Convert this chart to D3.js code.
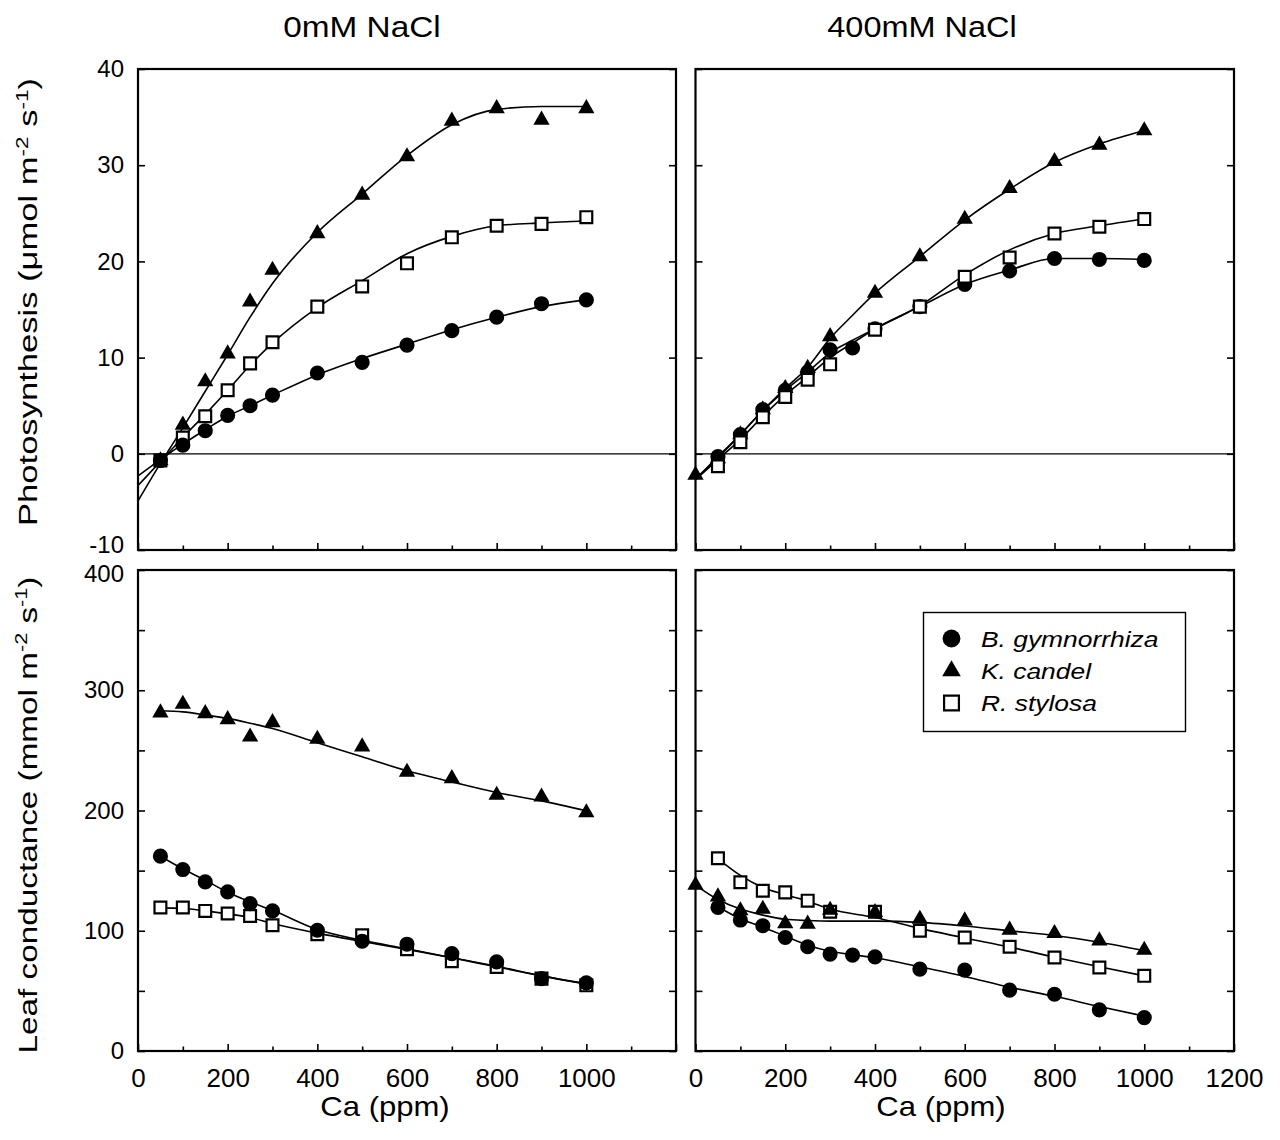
<!DOCTYPE html>
<html>
<head>
<meta charset="utf-8">
<script src="https://cdn.jsdelivr.net/npm/d3@7"></script>
<style>
  html, body { margin: 0; padding: 0; background: #fff; }
  svg { display: block; font-family: "Liberation Sans", Arial, Helvetica, sans-serif; }
</style>
</head>
<body>
<svg id="chart" width="1280" height="1140"></svg>
<script>
// ---------------- data ----------------
const species = ["B. gymnorrhiza", "K. candel", "R. stylosa"];
const columnTitles = ["0mM NaCl", "400mM NaCl"];

// Ca steps (ppm)
const caStd = [50, 100, 150, 200, 250, 300, 400, 500, 600, 700, 800, 900, 1000];
const caWith350 = [50, 100, 150, 200, 250, 300, 350, 400, 500, 600, 700, 800, 900, 1000];
const caWithZero = [0, 50, 100, 150, 200, 250, 300, 400, 500, 600, 700, 800, 900, 1000];

// Photosynthesis, 0 mM NaCl (umol m-2 s-1)
const pn0Bg = [-0.7, 0.9, 2.4, 4.0, 5.0, 6.1, 8.4, 9.5, 11.3, 12.8, 14.2, 15.6, 16.0];
const pn0Kc = [-0.7, 3.0, 7.5, 10.4, 15.8, 19.1, 22.9, 26.9, 30.9, 34.6, 35.9, 34.7, 35.9];
const pn0Rs = [-0.7, 1.7, 3.9, 6.6, 9.4, 11.6, 15.3, 17.4, 19.8, 22.5, 23.7, 23.9, 24.6];

// Photosynthesis, 400 mM NaCl
const pn400Bg = [-0.3, 2.0, 4.6, 6.6, 8.5, 10.8, 11.0, 13.0, 15.3, 17.6, 19.0, 20.3, 20.2, 20.1];
const pn400Kc = [-2.2, -0.5, 2.0, 4.6, 6.8, 8.9, 12.2, 16.7, 20.5, 24.4, 27.6, 30.4, 32.1, 33.6];
const pn400Rs = [-1.3, 1.2, 3.8, 5.9, 7.7, 9.3, 12.9, 15.3, 18.4, 20.4, 22.9, 23.6, 24.4];

// Leaf conductance, 0 mM NaCl (mmol m-2 s-1)
const gs0Bg = [162, 150.9, 140.6, 132.3, 122.6, 116.5, 100.4, 91.3, 88.8, 81, 74.1, 60.2, 56.6];
const gs0Kc = [281.3, 288.5, 280.7, 275.7, 261.3, 273.2, 259.4, 253, 231.9, 226.6, 212.8, 211.4, 198.3];
const gs0Rs = [119.3, 119.3, 116.5, 114.3, 112.3, 104.6, 97.1, 96.3, 84.6, 74.6, 69.9, 60.2, 54.6];

// Leaf conductance, 400 mM NaCl
const gs400Bg = [119.4, 108.9, 104.2, 94.4, 86.7, 80.6, 79.7, 78.3, 68.1, 67.2, 50.6, 47.2, 34.2, 27.8];
const gs400Kc = [138, 128.3, 116.7, 118, 106, 105.6, 117.2, 115.3, 109.7, 108.3, 100.6, 97.8, 91.7, 83.9];
const gs400Rs = [160.3, 140.3, 133.3, 131.9, 125, 115.8, 115.8, 100, 94.4, 86.7, 77.8, 69.4, 62.5];

// fitted response curves
const fitTL_x = [0, 50, 100, 150, 200, 250, 300, 400, 500, 600, 700, 800, 900, 1000];
const fitTL_Bg = [-2.3, -0.6, 1.0, 2.5, 3.9, 5.0, 6.1, 8.2, 9.9, 11.4, 12.9, 14.2, 15.3, 16.0];
const fitTL_Kc = [-4.9, -1.0, 2.7, 6.5, 10.3, 14.2, 17.7, 23.0, 27.0, 31.0, 34.2, 35.8, 36.1, 36.1];
const fitTL_Rs = [-3.3, -0.8, 1.7, 4.1, 6.6, 9.2, 11.5, 15.2, 18.0, 20.8, 22.6, 23.7, 24.0, 24.2];

const fitTR_x = [0, 50, 100, 150, 200, 250, 300, 350, 400, 500, 600, 700, 800, 900, 1000];
const fitTR_Bg = [-2.7, -0.3, 2.0, 4.5, 6.6, 8.5, 10.5, 11.8, 13.0, 15.3, 17.6, 19.1, 20.3, 20.3, 20.2];
const fitTR_Kc = [-2.6, -0.4, 2.0, 4.5, 6.8, 9.0, 12.0, 14.4, 16.7, 20.5, 24.3, 27.5, 30.3, 32.2, 33.6];
const fitTR_Rs = [-2.7, -0.6, 1.5, 3.9, 6.1, 8.0, 10.0, 11.5, 13.0, 15.4, 18.6, 21.2, 22.9, 23.7, 24.4];

const fitBL_x = [50, 100, 150, 200, 250, 300, 400, 500, 600, 700, 800, 900, 1000];
const fitBL_Bg = [162, 151.5, 142, 132, 124, 117, 101, 92, 85, 77.5, 70.5, 62.5, 56];
const fitBL_Kc = [283, 282, 279.5, 276.6, 272.6, 268.2, 256.3, 244.7, 233, 223.8, 215, 208, 199.7];
const fitBL_Rs = [119, 118.5, 116.5, 114, 111, 106, 98, 91, 84.5, 77.5, 70, 62.5, 55.5];

const fitBR_xBg = [50, 100, 150, 200, 250, 300, 350, 400, 500, 600, 700, 800, 900, 1000];
const fitBR_Bg = [120, 110, 103, 95.5, 88, 83, 80, 77.5, 70, 62, 53, 45.5, 37, 29];
const fitBR_xKc = [0, 50, 100, 150, 200, 250, 300, 400, 500, 600, 700, 800, 900, 1000];
const fitBR_Kc = [138, 126, 118, 113, 109.5, 108.5, 108, 108, 107, 104, 100, 96, 90.5, 83.5];
const fitBR_xRs = [50, 100, 150, 200, 250, 300, 400, 500, 600, 700, 800, 900, 1000];
const fitBR_Rs = [160, 146, 136, 130, 124.5, 118, 111, 102, 94, 86.5, 78, 70, 62.5];

// axis ticks
const xTicksAll = [0, 100, 200, 300, 400, 500, 600, 700, 800, 900, 1000, 1100, 1200];
const xLabelsLeft = [0, 200, 400, 600, 800, 1000];
const xLabelsRight = [0, 200, 400, 600, 800, 1000, 1200];
const yTicksPn = [-10, 0, 10, 20, 30, 40];
const yTicksGs = [0, 50, 100, 150, 200, 250, 300, 350, 400];
const yLabelsGs = [0, 100, 200, 300, 400];

// ---------------- layout ----------------
const svg = d3.select("#chart");
const FONT = "'Liberation Sans', Arial, Helvetica, sans-serif";

const xLeft = d3.scaleLinear().domain([0, 1200]).range([138, 676]);
const xRight = d3.scaleLinear().domain([0, 1200]).range([695.5, 1234]);
const yTop = d3.scaleLinear().domain([-10, 40]).range([550, 69]);
const yBot = d3.scaleLinear().domain([0, 400]).range([1051, 570]);

const zip = (xs, ys) => xs.map((v, i) => [v, ys[i]]);

const panels = [
  { x: xLeft, y: yTop, yTicks: yTicksPn, yLabels: yTicksPn, xLabels: null, zero: true,
    pts: [zip(caStd, pn0Bg), zip(caStd, pn0Kc), zip(caStd, pn0Rs)],
    fits: [zip(fitTL_x, fitTL_Bg), zip(fitTL_x, fitTL_Kc), zip(fitTL_x, fitTL_Rs)],
    order: [2, 1, 0] },
  { x: xRight, y: yTop, yTicks: yTicksPn, yLabels: null, xLabels: null, zero: true,
    pts: [zip(caWith350, pn400Bg), zip(caWithZero, pn400Kc), zip(caStd, pn400Rs)],
    fits: [zip(fitTR_x, fitTR_Bg), zip(fitTR_x, fitTR_Kc), zip(fitTR_x, fitTR_Rs)],
    order: [1, 0, 2] },
  { x: xLeft, y: yBot, yTicks: yTicksGs, yLabels: yLabelsGs, xLabels: xLabelsLeft, zero: false,
    pts: [zip(caStd, gs0Bg), zip(caStd, gs0Kc), zip(caStd, gs0Rs)],
    fits: [zip(fitBL_x, fitBL_Bg), zip(fitBL_x, fitBL_Kc), zip(fitBL_x, fitBL_Rs)],
    order: [2, 1, 0] },
  { x: xRight, y: yBot, yTicks: yTicksGs, yLabels: null, xLabels: xLabelsRight, zero: false,
    pts: [zip(caWith350, gs400Bg), zip(caWithZero, gs400Kc), zip(caStd, gs400Rs)],
    fits: [zip(fitBR_xBg, fitBR_Bg), zip(fitBR_xKc, fitBR_Kc), zip(fitBR_xRs, fitBR_Rs)],
    order: [2, 0, 1] }
];

// marker shapes: filled circle, filled triangle, open square
const markerPath = [
  d3.symbol(d3.symbolCircle, 180)(),
  d3.symbol(d3.symbolTriangle, 115)(),
  d3.symbol(d3.symbolSquare, 140)()
];
const legendPath = [
  d3.symbol(d3.symbolCircle, 250)(),
  d3.symbol(d3.symbolTriangle, 150)(),
  d3.symbol(d3.symbolSquare, 220)()
];
function styleMarker(sel, k) {
  if (k === 2) sel.attr("fill", "#fff").attr("stroke", "#000").attr("stroke-width", 2.2);
  else sel.attr("fill", "#000").attr("stroke", "none");
}

// small vertical nudges where the two rows' end labels meet
const yLabelNudge = { "-10": -5, "400": 4 };

panels.forEach(p => {
  const [x0, x1] = p.x.range();
  const [yb, yt] = p.y.range();
  const g = svg.append("g");

  // bottom ticks (inward), labelled only on the lower row
  const bottomAxis = d3.axisBottom(p.x)
    .tickValues(xTicksAll)
    .tickSize(-7)
    .tickPadding(18)
    .tickFormat(d => (p.xLabels && p.xLabels.includes(d)) ? d : "");
  const gb = g.append("g").attr("transform", `translate(0,${yb})`).call(bottomAxis);
  gb.select(".domain").remove();
  gb.selectAll(".tick line").attr("stroke-width", 1.6).attr("y2", d => d % 200 === 0 ? -7 : -4.5);
  gb.selectAll(".tick text").attr("font-size", 26).attr("font-family", FONT).attr("fill", "#000");

  // left ticks (inward)
  const leftAxis = d3.axisLeft(p.y)
    .tickValues(p.yTicks)
    .tickSize(-7)
    .tickPadding(14)
    .tickFormat(d => (p.yLabels && p.yLabels.includes(d)) ? d : "");
  const gl = g.append("g").attr("transform", `translate(${x0},0)`).call(leftAxis);
  gl.select(".domain").remove();
  gl.selectAll(".tick line").attr("stroke-width", 1.6);
  gl.selectAll(".tick text")
    .attr("font-size", 24).attr("font-family", FONT).attr("fill", "#000")
    .attr("y", d => yLabelNudge[String(d)] || 0);

  // right ticks (inward)
  const rightAxis = d3.axisRight(p.y).tickValues(p.yTicks).tickSize(-7).tickFormat("");
  const gr = g.append("g").attr("transform", `translate(${x1},0)`).call(rightAxis);
  gr.select(".domain").remove();
  gr.selectAll(".tick line").attr("stroke-width", 1.6);

  // zero reference line
  if (p.zero) {
    g.append("line")
      .attr("x1", x0).attr("x2", x1)
      .attr("y1", p.y(0)).attr("y2", p.y(0))
      .attr("stroke", "#000").attr("stroke-width", 1.2);
  }

  // fitted curves
  const line = d3.line().x(d => p.x(d[0])).y(d => p.y(d[1])).curve(d3.curveMonotoneX);
  p.fits.forEach(f => {
    g.append("path").attr("d", line(f))
      .attr("fill", "none").attr("stroke", "#000").attr("stroke-width", 1.6);
  });

  // measured points
  p.order.forEach(k => {
    g.append("g").selectAll("path")
      .data(p.pts[k])
      .join("path")
      .attr("d", markerPath[k])
      .attr("transform", d => `translate(${p.x(d[0])},${p.y(d[1])})`)
      .call(styleMarker, k);
  });

  // frame
  g.append("rect")
    .attr("x", x0).attr("y", yt)
    .attr("width", x1 - x0).attr("height", yb - yt)
    .attr("fill", "none").attr("stroke", "#000").attr("stroke-width", 2.2);
});

// ---------------- text ----------------
function label(x, y, opts) {
  const g = svg.append("g")
    .attr("transform", `translate(${x},${y}) rotate(${opts.rotate || 0}) scale(${opts.sx || 1},1)`);
  return g.append("text")
    .attr("text-anchor", opts.anchor || "middle")
    .attr("font-size", opts.size)
    .attr("font-family", FONT)
    .attr("font-style", opts.italic ? "italic" : "normal")
    .attr("fill", "#000");
}

label(362, 37, { size: 29, sx: 1.15 }).text(columnTitles[0]);
label(922, 37, { size: 29, sx: 1.12 }).text(columnTitles[1]);

label(385, 1116, { size: 27, sx: 1.15 }).text("Ca (ppm)");
label(941, 1116, { size: 27, sx: 1.15 }).text("Ca (ppm)");

function unitTail(t, prefix) {
  t.append("tspan").text(prefix + " m");
  t.append("tspan").text("-2").attr("font-size", "0.65em").attr("baseline-shift", "super");
  t.append("tspan").text(" s");
  t.append("tspan").text("-1").attr("font-size", "0.65em").attr("baseline-shift", "super");
  t.append("tspan").text(")");
}
const t1 = label(37, 302, { size: 26, sx: 1.33, rotate: -90 });
t1.append("tspan").text("Photosynthesis (");
t1.append("tspan").text("\u03bc");
unitTail(t1, "mol");

const t2 = label(37, 815, { size: 26, sx: 1.28, rotate: -90 });
unitTail(t2, "Leaf conductance (mmol");

// ---------------- legend ----------------
const legend = svg.append("g");
legend.append("rect")
  .attr("x", 923.5).attr("y", 612.5).attr("width", 262).attr("height", 119)
  .attr("fill", "#fff").attr("stroke", "#000").attr("stroke-width", 1.4);
const legendRowsY = [638.5, 671, 703];
species.forEach((name, k) => {
  legend.append("path")
    .attr("d", legendPath[k])
    .attr("transform", `translate(951.5,${legendRowsY[k]})`)
    .call(styleMarker, k);
  label(981, legendRowsY[k] + 8, { size: 22, sx: 1.2, anchor: "start", italic: true }).text(name);
});
</script>
</body>
</html>
